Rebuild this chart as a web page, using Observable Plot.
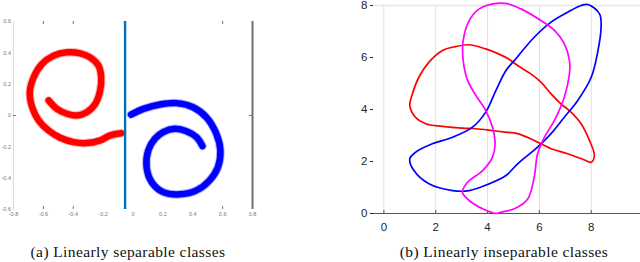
<!DOCTYPE html>
<html><head><meta charset="utf-8">
<script src="https://cdn.jsdelivr.net/npm/d3@7"></script>
<script src="https://cdn.jsdelivr.net/npm/@observablehq/plot@0.6"></script>
<style>
body{margin:0;background:#fff;width:640px;height:262px;position:relative;overflow:hidden}
#a{position:absolute;left:0;top:0}
#b{position:absolute;left:340px;top:0}
.cap{position:absolute;top:244px;font-family:"Liberation Serif","DejaVu Serif",serif;font-size:15.5px;letter-spacing:0.4px;line-height:16px;color:#111;white-space:nowrap;transform:translateX(-50%)}
</style></head><body>
<div id="a"></div><div id="b"></div>
<div class="cap" style="left:128px">(a) Linearly separable classes</div>
<div class="cap" style="left:504px">(b) Linearly inseparable classes</div>
<script>
// ---- Panel (a): two spirals ----
const redSpiral = [[-0.565,0.096],[-0.509,0.042],[-0.442,0.011],[-0.375,0.0],[-0.309,0.021],[-0.253,0.074],[-0.22,0.159],[-0.213,0.244],[-0.231,0.318],[-0.287,0.371],[-0.353,0.397],[-0.442,0.403],[-0.531,0.382],[-0.609,0.329],[-0.665,0.244],[-0.691,0.148],[-0.675,0.053],[-0.631,-0.032],[-0.565,-0.096],[-0.487,-0.142],[-0.398,-0.170],[-0.309,-0.176],[-0.22,-0.159],[-0.153,-0.127],[-0.08,-0.113]];
const blueSpiral = [[-0.013,0.006],[0.069,0.042],[0.18,0.070],[0.291,0.079],[0.402,0.053],[0.491,-0.011],[0.558,-0.117],[0.585,-0.223],[0.569,-0.329],[0.513,-0.414],[0.425,-0.478],[0.313,-0.503],[0.202,-0.489],[0.125,-0.425],[0.091,-0.329],[0.102,-0.223],[0.147,-0.148],[0.202,-0.106],[0.28,-0.085],[0.358,-0.100],[0.425,-0.138],[0.465,-0.195]];
const separatorX = -0.053;
const boundaryX = 0.8;
const aXTicks = [-0.8,-0.6,-0.4,-0.2,0,0.2,0.4,0.6,0.8];
const aYTicks = [-0.6,-0.4,-0.2,0,0.2,0.4,0.6];
const aEdgeXTicks = [-0.6,-0.4,0.6];
const aEdgeYTicks = [0];

// ---- Panel (b): three closed loops ----
const redLoop = [[1.0,4.15],[1.10,4.60],[1.35,5.24],[1.74,5.82],[2.26,6.27],[2.77,6.42],[3.29,6.49],[3.93,6.33],[4.4,6.15],[4.8,5.95],[5.16,5.69],[5.67,5.37],[6.06,5.05],[6.45,4.60],[6.83,4.22],[7.22,3.90],[7.61,3.45],[7.93,2.81],[8.12,2.23],[8.0,1.97],[7.74,2.06],[7.09,2.30],[6.45,2.49],[5.80,2.81],[5.16,3.07],[4.6,3.14],[4.19,3.19],[3.55,3.26],[3.03,3.28],[2.26,3.35],[1.61,3.45],[1.22,3.70]];
const blueLoop = [[1.0,2.10],[1.16,1.65],[1.74,1.14],[2.65,0.88],[3.29,0.88],[4.06,1.14],[4.71,1.46],[5.16,1.91],[5.93,2.55],[6.45,3.07],[6.96,3.70],[7.48,4.35],[8.0,5.24],[8.26,6.27],[8.38,7.17],[8.32,7.68],[7.87,8.04],[7.61,8.0],[7.09,7.74],[6.45,7.36],[5.80,6.78],[5.03,5.88],[4.71,5.5],[4.32,4.73],[3.93,3.90],[3.42,3.32],[2.65,2.93],[1.87,2.68],[1.23,2.36]];
const magentaLoop = [[4.26,8.07],[3.68,7.87],[3.29,7.42],[3.06,6.65],[3.06,5.88],[3.23,5.12],[3.55,4.54],[3.93,3.96],[4.19,3.32],[4.29,2.68],[4.19,2.17],[3.81,1.65],[3.23,1.20],[3.03,0.82],[3.29,0.50],[3.81,0.18],[4.32,0.0],[4.51,0.05],[5.03,0.18],[5.55,0.56],[5.80,1.40],[5.93,2.30],[6.19,2.93],[6.58,3.58],[6.96,4.47],[7.16,5.37],[7.16,5.88],[6.96,6.53],[6.58,7.04],[6.06,7.42],[5.29,7.87],[4.77,8.07]];
const bXTicks = [0,2,4,6,8];
const bYTicks = [0,2,4,6,8];
const bTop = [8];

const fmt = d => String(d);
const px = d => d[0], py = d => d[1];

// Panel A
const A_W = 270, A_H = 222, A_ML = 13, A_MR = 18, A_MT = 21, A_MB = 13;
const aPlotH = A_H - A_MT - A_MB, aPlotW = A_W - A_ML - A_MR;
const spiralBand = (data, color) => [
  Plot.line(data, {x: px, y: py, curve: "catmull-rom", stroke: color, strokeWidth: 8.5, strokeOpacity: 0.3, strokeLinecap: "round"}),
  Plot.line(data, {x: px, y: py, curve: "catmull-rom", stroke: color, strokeWidth: 6.5, strokeLinecap: "round"})
];
const plotA = Plot.plot({
  width: A_W, height: A_H, marginLeft: A_ML, marginRight: A_MR, marginTop: A_MT, marginBottom: A_MB,
  x: {domain: [-0.8, 0.8]}, y: {domain: [-0.6, 0.6]},
  style: {background: "transparent", fontFamily: "Liberation Sans, Arial, sans-serif"},
  marks: [
    Plot.frame({anchor: "left", stroke: "#dcdcdc"}),
    Plot.axisX(aXTicks, {anchor: "bottom", tickSize: 0, tickPadding: 3, fontSize: 5.5, color: "#777", tickFormat: fmt, label: null}),
    Plot.axisY(aYTicks, {anchor: "left", tickSize: 0, tickPadding: 2.5, fontSize: 5.5, color: "#777", tickFormat: fmt, label: null}),
    Plot.tickX(aEdgeXTicks, {x: d => d, insetTop: aPlotH - 3, stroke: "#777"}),
    Plot.tickX(aEdgeXTicks, {x: d => d, insetBottom: aPlotH - 3, stroke: "#777"}),
    Plot.tickY(aEdgeYTicks, {y: d => d, insetRight: aPlotW - 3, stroke: "#777"}),
    Plot.tickY(aEdgeYTicks, {y: d => d, insetLeft: aPlotW - 3, stroke: "#777"}),
    ...spiralBand(redSpiral, "#ff0000"),
    ...spiralBand(blueSpiral, "#0000ff"),
    Plot.ruleX([separatorX], {stroke: "#0072BD", strokeWidth: 2.4}),
    Plot.ruleX([boundaryX], {stroke: "#707070", strokeWidth: 2})
  ]
});
document.getElementById("a").append(plotA);

// Panel B
const B_W = 300, B_H = 240, B_ML = 33, B_MR = 0, B_MT = 5, B_MB = 27;
const bPlotH = B_H - B_MT - B_MB;
const plotB = Plot.plot({
  width: B_W, height: B_H, marginLeft: B_ML, marginRight: B_MR, marginTop: B_MT, marginBottom: B_MB,
  x: {domain: [-0.4, 9.9]}, y: {domain: [0, 8]},
  style: {background: "transparent", fontFamily: "Liberation Sans, Arial, sans-serif", overflow: "visible"},
  marks: [
    Plot.gridX(bXTicks, {stroke: "#e0e0e0", strokeOpacity: 1}),
    Plot.gridY(bTop, {stroke: "#e6e6e6", strokeOpacity: 1, strokeWidth: 1.5}),
    Plot.axisX(bXTicks, {anchor: "bottom", tickSize: 0, tickPadding: 9, fontSize: 11.5, color: "#262626", tickFormat: fmt, label: null}),
    Plot.axisY(bYTicks, {anchor: "left", tickSize: 3, tickPadding: 3, fontSize: 11.5, color: "#262626", tickFormat: fmt, label: null}),
    Plot.tickX(bXTicks, {x: d => d, insetTop: bPlotH - 3, stroke: "#555"}),
    Plot.ruleY([0], {stroke: "#555", strokeWidth: 1.2}),
    Plot.line(redLoop, {x: px, y: py, curve: "catmull-rom-closed", stroke: "#ff0000", strokeWidth: 1.7}),
    Plot.line(blueLoop, {x: px, y: py, curve: "catmull-rom-closed", stroke: "#0000ff", strokeWidth: 1.7}),
    Plot.line(magentaLoop, {x: px, y: py, curve: "catmull-rom-closed", stroke: "#ff00ff", strokeWidth: 1.7})
  ]
});
document.getElementById("b").append(plotB);
</script>
</body></html>
